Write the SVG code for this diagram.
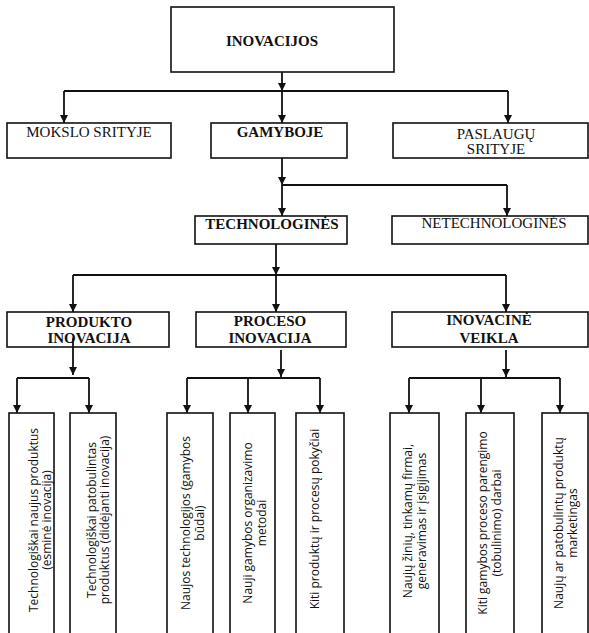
<svg xmlns="http://www.w3.org/2000/svg" width="589" height="633" viewBox="0 0 589 633">
<style>
.box{fill:#fff;stroke:#111;stroke-width:1.6}
.con{fill:none;stroke:#111;stroke-width:1.8}
.t{font-family:"Liberation Serif","Times New Roman",serif;font-size:15px;fill:#111;text-anchor:middle}
.b{font-weight:bold}
.r{font-family:"Open Sans","Liberation Sans",sans-serif;font-size:12px;fill:#111;text-anchor:middle}
</style>
<defs>
<marker id="ah" viewBox="0 0 10 10" refX="10" refY="5" markerWidth="8" markerHeight="9" markerUnits="userSpaceOnUse" orient="auto">
<path d="M0,0 L10,5 L0,10 z" fill="#111"/>
</marker>
</defs>
<rect width="589" height="633" fill="#fff"/>

<g id="n-inovacijos"><rect class="box" x="171" y="7" width="223" height="65"/><text class="t b" x="272" y="46">INOVACIJOS</text></g>
<g id="n-mokslo"><rect class="box" x="7" y="123" width="164" height="35"/><text class="t" x="89" y="137">MOKSLO SRITYJE</text></g>
<g id="n-gamyboje"><rect class="box" x="211" y="123" width="136" height="35"/><text class="t b" x="280" y="137">GAMYBOJE</text></g>
<g id="n-paslaugu"><rect class="box" x="393" y="123" width="195" height="35"/><text class="t" x="496" y="139">PASLAUGŲ</text><text class="t" x="496" y="154">SRITYJE</text></g>
<g id="n-technologines"><rect class="box" x="195" y="216" width="152" height="28"/><text class="t b" x="272" y="229">TECHNOLOGINĖS</text></g>
<g id="n-netechnologines"><rect class="box" x="392" y="216" width="196" height="28"/><text class="t" x="494" y="228">NETECHNOLOGINĖS</text></g>
<g id="n-produkto"><rect class="box" x="7" y="312" width="162" height="35"/><text class="t b" x="89" y="327">PRODUKTO</text><text class="t b" x="89" y="343">INOVACIJA</text></g>
<g id="n-proceso"><rect class="box" x="196" y="312" width="150" height="35"/><text class="t b" x="270" y="326">PROCESO</text><text class="t b" x="270" y="343">INOVACIJA</text></g>
<g id="n-inovacine"><rect class="box" x="392" y="312" width="196" height="35"/><text class="t b" x="489" y="325">INOVACINĖ</text><text class="t b" x="489" y="343">VEIKLA</text></g>

<g id="n-b1"><rect class="box" x="9" y="413" width="45" height="230"/>
<text class="r" transform="translate(38,520) rotate(-90)">Technologiškai naujus produktus</text>
<text class="r" transform="translate(51,520) rotate(-90)">(esminė inovacija)</text></g>
<g id="n-b2"><rect class="box" x="70" y="413" width="46" height="230"/>
<text class="r" transform="translate(96,520) rotate(-90)">Technologiškai patobulintas</text>
<text class="r" transform="translate(109,520) rotate(-90)">produktus (didėjanti inovacija)</text></g>
<g id="n-b3"><rect class="box" x="167" y="413" width="46" height="230"/>
<text class="r" transform="translate(190,523) rotate(-90)">Naujos technologijos (gamybos</text>
<text class="r" transform="translate(204,523) rotate(-90)">būdai)</text></g>
<g id="n-b4"><rect class="box" x="230" y="413" width="45" height="230"/>
<text class="r" transform="translate(252,523) rotate(-90)">Nauji gamybos organizavimo</text>
<text class="r" transform="translate(266,523) rotate(-90)">metodai</text></g>
<g id="n-b5"><rect class="box" x="296" y="413" width="48" height="230"/>
<text class="r" transform="translate(319,519) rotate(-90)">Kiti produktų ir procesų pokyčiai</text></g>
<g id="n-b6"><rect class="box" x="390" y="413" width="49" height="230"/>
<text class="r" transform="translate(412,521) rotate(-90)">Naujų žinių, tinkamų firmai,</text>
<text class="r" transform="translate(426,521) rotate(-90)">generavimas ir įsigijimas</text></g>
<g id="n-b7"><rect class="box" x="466" y="413" width="48" height="230"/>
<text class="r" transform="translate(487,523) rotate(-90)">Kiti gamybos proceso parengimo</text>
<text class="r" transform="translate(501,523) rotate(-90)">(tobulinimo) darbai</text></g>
<g id="n-b8"><rect class="box" x="542" y="413" width="46" height="230"/>
<text class="r" transform="translate(563,523) rotate(-90)">Naujų ar patobulintų produktų</text>
<text class="r" transform="translate(577,523) rotate(-90)">marketingas</text></g>

<g id="connectors">
<line class="con" x1="282" y1="72" x2="282" y2="91" marker-end="url(#ah)"/>
<line class="con" x1="64" y1="91" x2="508" y2="91"/>
<line class="con" x1="64" y1="91" x2="64" y2="123" marker-end="url(#ah)"/>
<line class="con" x1="282" y1="91" x2="282" y2="123" marker-end="url(#ah)"/>
<line class="con" x1="508" y1="91" x2="508" y2="123" marker-end="url(#ah)"/>

<line class="con" x1="282" y1="158" x2="282" y2="185" marker-end="url(#ah)"/>
<line class="con" x1="282" y1="185" x2="507" y2="185"/>
<line class="con" x1="282" y1="185" x2="282" y2="216" marker-end="url(#ah)"/>
<line class="con" x1="507" y1="185" x2="507" y2="216" marker-end="url(#ah)"/>

<line class="con" x1="276" y1="244" x2="276" y2="275" marker-end="url(#ah)"/>
<line class="con" x1="73" y1="275" x2="506" y2="275"/>
<line class="con" x1="73" y1="275" x2="73" y2="312" marker-end="url(#ah)"/>
<line class="con" x1="276" y1="275" x2="276" y2="312" marker-end="url(#ah)"/>
<line class="con" x1="506" y1="275" x2="506" y2="312" marker-end="url(#ah)"/>

<line class="con" x1="73" y1="338" x2="73" y2="375" marker-end="url(#ah)"/>
<line class="con" x1="17" y1="378" x2="89" y2="378"/>
<line class="con" x1="17" y1="378" x2="17" y2="413" marker-end="url(#ah)"/>
<line class="con" x1="89" y1="378" x2="89" y2="413" marker-end="url(#ah)"/>

<line class="con" x1="281" y1="350" x2="281" y2="377" marker-end="url(#ah)"/>
<line class="con" x1="187" y1="378" x2="320" y2="378"/>
<line class="con" x1="187" y1="378" x2="187" y2="413" marker-end="url(#ah)"/>
<line class="con" x1="248" y1="378" x2="248" y2="413" marker-end="url(#ah)"/>
<line class="con" x1="320" y1="378" x2="320" y2="413" marker-end="url(#ah)"/>

<line class="con" x1="506" y1="350" x2="506" y2="377" marker-end="url(#ah)"/>
<line class="con" x1="409" y1="378" x2="560" y2="378"/>
<line class="con" x1="409" y1="378" x2="409" y2="413" marker-end="url(#ah)"/>
<line class="con" x1="481" y1="378" x2="481" y2="413" marker-end="url(#ah)"/>
<line class="con" x1="560" y1="378" x2="560" y2="413" marker-end="url(#ah)"/>
</g>
</svg>
